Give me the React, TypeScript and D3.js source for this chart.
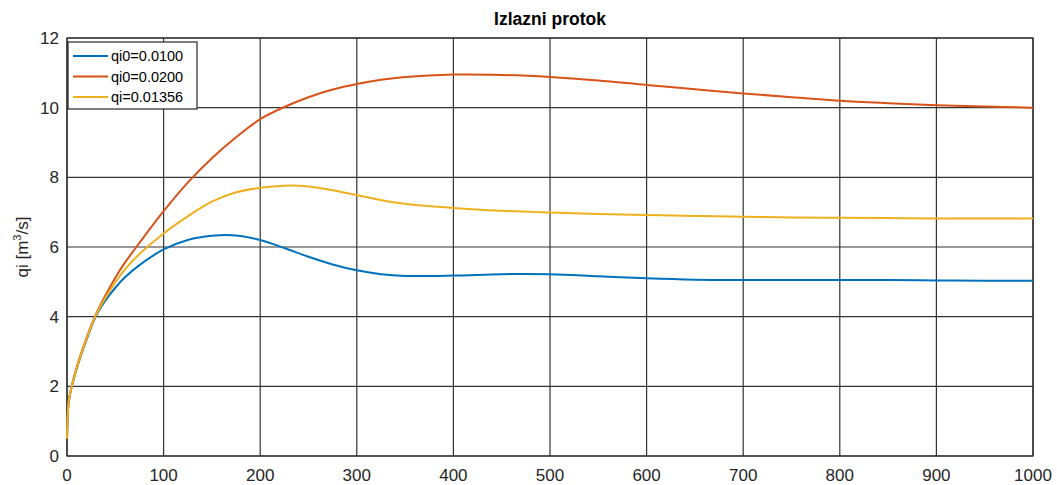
import React from 'react';
import * as d3 from 'd3';

const times = [0, 1, 2, 5, 10, 15, 20, 30, 40, 50, 60, 75, 100, 125, 150, 175, 200, 225, 250, 275, 300, 325, 350, 400, 450, 500, 550, 600, 650, 700, 750, 800, 850, 900, 950, 1000];

const qi0_0100 = [0.5, 1.3, 1.6, 2.0, 2.5, 2.93, 3.32, 4.02, 4.47, 4.83, 5.13, 5.48, 5.93, 6.2, 6.32, 6.33, 6.2, 5.97, 5.72, 5.5, 5.33, 5.22, 5.17, 5.18, 5.22, 5.22, 5.16, 5.1, 5.06, 5.05, 5.05, 5.05, 5.05, 5.04, 5.03, 5.03];
const qi0_0200 = [0.5, 1.3, 1.6, 2.02, 2.55, 2.98, 3.38, 4.07, 4.62, 5.12, 5.55, 6.12, 7.03, 7.85, 8.55, 9.15, 9.67, 10.02, 10.3, 10.52, 10.68, 10.8, 10.88, 10.95, 10.94, 10.88, 10.78, 10.65, 10.53, 10.41, 10.3, 10.2, 10.13, 10.07, 10.03, 10.0];
const qi_01356 = [0.5, 1.3, 1.6, 2.01, 2.52, 2.95, 3.35, 4.05, 4.55, 4.98, 5.36, 5.8, 6.39, 6.88, 7.3, 7.57, 7.7, 7.76, 7.74, 7.63, 7.49, 7.35, 7.24, 7.12, 7.04, 6.99, 6.95, 6.92, 6.89, 6.87, 6.85, 6.84, 6.83, 6.82, 6.82, 6.82];

const seriesNames = ['qi0=0.0100', 'qi0=0.0200', 'qi=0.01356'];
const seriesColors = ['#0072BD', '#D95319', '#EDB120'];
const xTicks = [0, 100, 200, 300, 400, 500, 600, 700, 800, 900, 1000];
const yTicks = [0, 2, 4, 6, 8, 10, 12];

const W = 1057;
const H = 485;
const m = { left: 67, right: 24, top: 38, bottom: 29 };
const font = '"Liberation Sans", Arial, sans-serif';

export default function App() {
  const x = d3.scaleLinear().domain([0, 1000]).range([m.left, W - m.right]);
  const y = d3.scaleLinear().domain([0, 12]).range([H - m.bottom, m.top]);
  const line = d3.line<number>()
    .x((_, i) => x(times[i]))
    .y(d => y(d))
    .curve(d3.curveCatmullRom.alpha(0.5));
  const series = [qi0_0100, qi0_0200, qi_01356];

  return (
    <svg width={W} height={H} style={{ position: 'absolute', left: 0, top: 0, background: '#fff' }} fontFamily={font}>
      <rect x={0} y={0} width={W} height={H} fill="#fff" />
      {/* grid */}
      {xTicks.map(t => (
        <line key={'gx' + t} x1={x(t)} x2={x(t)} y1={y(0)} y2={y(12)} stroke="#333" strokeWidth={1.2} />
      ))}
      {yTicks.map(t => (
        <line key={'gy' + t} x1={x(0)} x2={x(1000)} y1={y(t)} y2={y(t)} stroke="#333" strokeWidth={1.2} />
      ))}
      <rect x={x(0)} y={y(12)} width={x(1000) - x(0)} height={y(0) - y(12)} fill="none" stroke="#262626" strokeWidth={1.2} />

      {/* lines */}
      {series.map((s, i) => (
        <path key={seriesNames[i]} d={line(s) || ''} fill="none" stroke={seriesColors[i]} strokeWidth={2} />
      ))}

      {/* tick labels */}
      {xTicks.map(t => (
        <text key={'tx' + t} x={x(t)} y={y(0) + 25} textAnchor="middle" fontSize={17} fill="#262626">{t}</text>
      ))}
      {yTicks.map(t => (
        <text key={'ty' + t} x={m.left - 8} y={y(t) + 6} textAnchor="end" fontSize={17} fill="#262626">{t}</text>
      ))}

      <text x={(x(0) + x(1000)) / 2} y={25} textAnchor="middle" fontSize={17.5} fontWeight="bold" fill="#000">Izlazni protok</text>
      <text transform={`translate(28,${(y(0) + y(12)) / 2}) rotate(-90)`} textAnchor="middle" fontSize={17} fill="#262626">
        qi [m<tspan dy={-7} fontSize={11}>3</tspan><tspan dy={7}>/s]</tspan>
      </text>

      {/* legend */}
      <g transform={`translate(${x(0) + 1},${y(12) + 4})`}>
        <rect x={0} y={0} width={129} height={67} fill="#fff" stroke="#262626" strokeWidth={1.2} />
        {seriesNames.map((n, i) => (
          <g key={n} transform={`translate(0,${14 + i * 20.5})`}>
            <line x1={5} x2={40} y1={0} y2={0} stroke={seriesColors[i]} strokeWidth={2} />
            <text x={43} y={5} fontSize={14.5} fill="#000">{n}</text>
          </g>
        ))}
      </g>
    </svg>
  );
}
